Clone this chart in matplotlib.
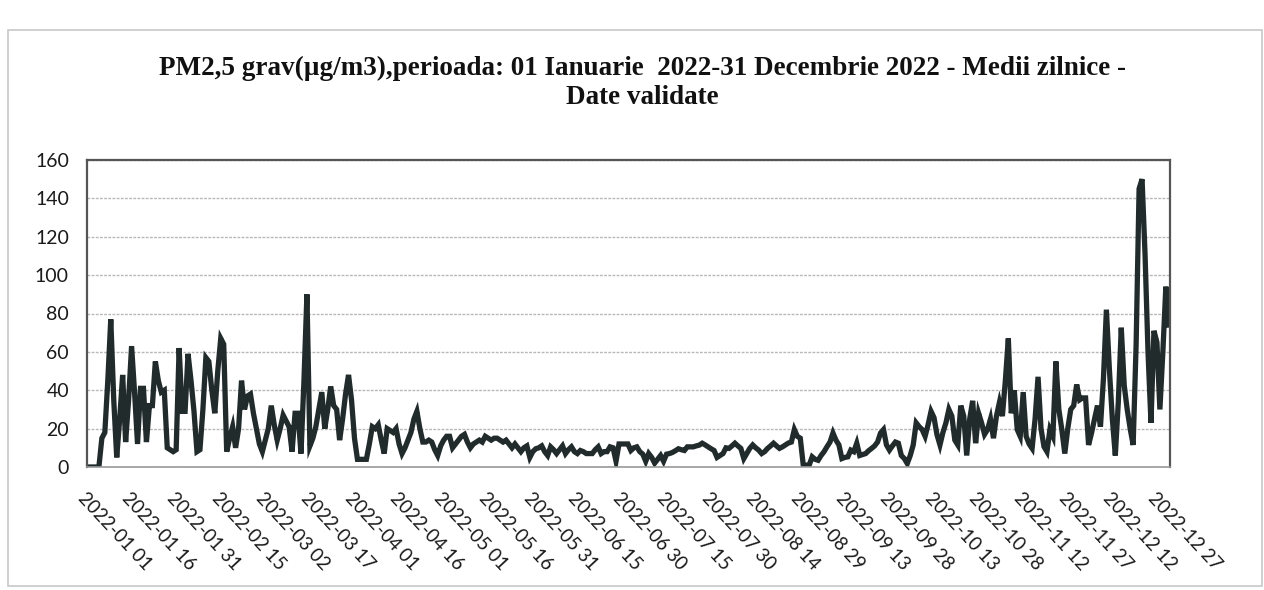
import numpy as np
import pandas as pd
import matplotlib
matplotlib.use("Agg")
import matplotlib.pyplot as plt
from matplotlib.patches import Rectangle

# daily means PM2.5
jan = [0, 0, 0, 0, 0, 15, 18, 45, 77, 35, 5, 25, 48, 13, 35, 63, 39, 12, 41, 41,
       13, 32, 32, 55, 45, 39, 40, 10, 9, 8, 9]
feb = [62, 29, 29, 59, 45, 29, 8, 9, 30, 57, 55, 40, 28, 50, 67, 64, 8, 15, 21, 10,
       20, 45, 30, 37, 38, 28, 20, 12]
mar = [8, 14, 20, 32, 22, 14, 20, 27, 24, 21, 8, 28, 28, 7, 45, 90, 11, 15, 21, 30,
       39, 20, 30, 42, 32, 30, 14, 25, 38, 48, 35]
apr = [15, 4, 4, 4, 4, 12, 21, 20, 22, 14, 7, 20, 19, 18, 20, 12, 7, 10, 14, 18,
       25, 29, 20, 13, 13, 14, 13, 9, 6, 11]
may = [14, 16, 16, 10, 12, 14, 16, 17, 13, 10, 12, 13, 14, 13, 16, 15, 14, 15, 15, 14,
       13, 14, 12, 10, 12, 10, 8, 10, 11, 5, 8]
jun = [9.5, 10, 11, 8, 6, 10.5, 9, 7, 9, 11, 7, 9, 10.5, 8, 7, 8.6, 8, 7, 7, 7,
       9, 10.5, 7, 8, 8, 10.5, 10, 3, 12, 12]
jul = [12, 12, 8.6, 10, 10.5, 8, 6.7, 3, 7, 5, 2, 4, 6, 3, 6.7, 7, 7.6, 8.5, 9.5, 9,
       8.6, 10.5, 10.5, 10.5, 11, 11.4, 12.4, 11.5, 10.5, 9.5, 8.6]
aug = [5, 6, 7, 10, 9.7, 11, 12.4, 11, 9.7, 4.4, 7, 9.7, 11.5, 10, 8.8, 7, 8, 9.7, 11, 12.4,
       11, 9.7, 10.5, 11.5, 12.5, 13, 19.5, 16, 15, 1, 1]
sep = [1, 5.3, 4, 3.5, 6, 8, 10.6, 13, 17.7, 14, 11.5, 4.4, 5, 5.3, 8.8, 8, 12.4, 6, 6.5, 7,
       8.5, 9.7, 11, 13, 17.7, 19.5, 11.5, 8.8, 11, 13]
oct_ = [12.4, 6, 4.4, 1.8, 6, 11.5, 23, 21, 19.5, 16, 22, 29, 25.7, 16.8, 11.5, 18, 23, 30, 26.5, 14,
        11.5, 32, 26.5, 6, 25, 34.5, 12.4, 28, 23, 17, 19.5]
nov = [25, 15, 26.5, 33.6, 26.5, 45, 67, 28, 40, 19.5, 16, 39, 16, 12, 9.7, 25, 47, 20, 10.6, 8,
       19.5, 16, 55, 30, 19.5, 7, 20, 30, 32, 43]
dec = [35, 36, 36, 11.5, 17.7, 25, 32, 21, 46, 82, 51, 25, 6, 33.6, 72.6, 42.5, 30, 20, 11.5, 63.7,
       145, 150, 111, 60, 23, 71, 65, 30, 60, 94, 74]

values = jan + feb + mar + apr + may + jun + jul + aug + sep + oct_ + nov + dec
dates = pd.date_range("2022-01-01", periods=len(values), freq="D")
tick_idx = list(range(0, len(values), 15))
tick_labels = [dates[i].strftime("%Y-%m %d") for i in tick_idx]
y_ticks = [0, 20, 40, 60, 80, 100, 120, 140, 160]

fig = plt.figure(figsize=(12.64, 5.90), dpi=100)
ax = fig.add_axes([87 / 1264, 1 - 467 / 590, (1170 - 87) / 1264, (467 - 160) / 590])

# outer chart frame
fig.patches.append(Rectangle((8 / 1264, 1 - 586 / 590), 1254 / 1264, 556 / 590,
                             transform=fig.transFigure, fill=False,
                             edgecolor="#c8c8c8", linewidth=1.2))

x = np.arange(len(values))
ax.plot(x, values, color="#222b2b", linewidth=3.8, solid_joinstyle="miter")

ax.set_xlim(0, len(values) - 0.6)
ax.set_ylim(0, 160)
ax.set_yticks(y_ticks)
ax.set_yticklabels([str(v) for v in y_ticks], fontsize=14, family="Lato", color="#1a1a1a")
ax.set_xticks(tick_idx)
ax.set_xticklabels(tick_labels, rotation=-47, ha="left", va="top", rotation_mode="anchor",
                   fontsize=13.5, family="Lato", color="#1a1a1a")
ax.tick_params(axis="y", length=0, pad=13)
ax.tick_params(axis="x", length=0, pad=16)

ax.grid(axis="y", color="#b8b8b8", linewidth=1.0, linestyle=(0, (2, 1)))
ax.set_axisbelow(True)
for side in ["left", "top", "right"]:
    ax.spines[side].set_color("#555555")
    ax.spines[side].set_linewidth(1.6)
ax.spines["bottom"].set_color("#999999")
ax.spines["bottom"].set_linewidth(1.2)

title_font = dict(ha="center", va="center", fontsize=19.5, fontweight="bold",
                  family="Liberation Serif", color="#111111")
fig.text(0.508, 1 - 68 / 590,
         "PM2,5 grav(\u00b5g/m3),perioada: 01 Ianuarie  2022-31 Decembrie 2022 - Medii zilnice -",
         **title_font)
fig.text(0.508, 1 - 97 / 590, "Date validate", **title_font)

fig.savefig("out.png", dpi=100, facecolor="white")
